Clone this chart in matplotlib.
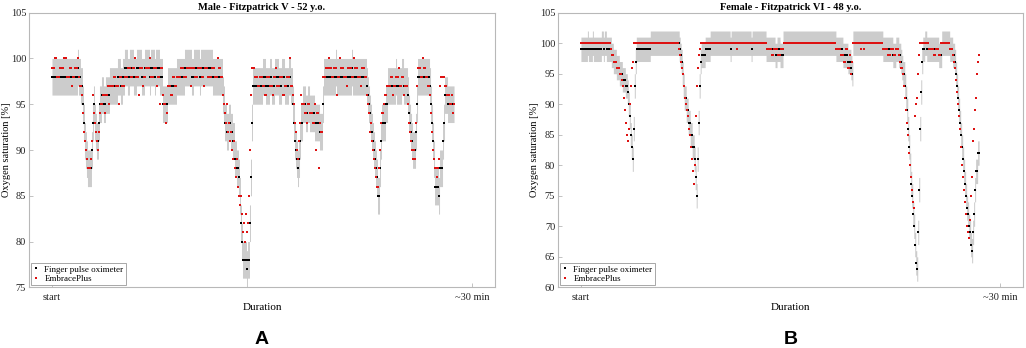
import numpy as np
import matplotlib
matplotlib.use("Agg")
import matplotlib.pyplot as plt

plt.rcParams['font.family'] = ['Liberation Serif', 'DejaVu Serif']

# ---- data: run-length encoded SpO2 readings (value, number of samples); 14 samples per minute ----
SAMPLES_PER_MIN = 14

male_finger_runs = [
    (98, 26), (99, 1), (98, 2), (97, 2), (95, 1), (93, 1), (91, 1), (90, 1), (89, 1), (88, 4),
    (90, 1), (93, 1), (95, 1), (93, 1), (92, 1), (91, 2), (93, 1),
    (95, 2), (96, 2), (95, 2), (96, 4), (97, 8), (98, 3), (97, 2), (98, 2),
    (99, 3), (98, 2), (99, 4), (98, 3), (99, 5), (98, 3),
    (99, 5), (98, 1), (99, 4), (98, 1), (99, 4), (98, 3), (95, 5), (97, 9), (98, 8),
    (99, 7), (98, 2), (99, 6), (98, 1), (99, 6), (99, 6), (98, 10),
    (96, 1), (95, 1), (93, 2), (92, 2), (93, 2), (92, 2), (91, 2), (89, 2), (88, 2), (87, 1),
    (85, 1), (82, 1), (80, 1), (78, 4), (77, 1), (78, 2), (82, 1), (87, 1), (93, 1),
    (97, 10), (98, 3), (97, 4), (98, 2), (97, 3), (98, 4), (97, 3), (98, 3), (97, 4), (98, 2), (97, 2),
    (95, 1), (93, 1), (91, 1), (90, 1), (89, 1), (88, 1), (89, 1), (91, 1),
    (93, 2), (95, 3), (94, 2), (95, 2), (94, 3), (94, 2), (93, 3), (93, 2), (92, 3),
    (95, 1), (98, 12), (99, 1), (98, 15), (99, 1), (98, 14),
    (97, 1), (96, 1), (95, 1), (94, 1), (93, 1), (92, 1), (91, 1), (90, 1), (89, 1), (88, 1), (87, 1), (85, 2),
    (88, 1), (91, 1), (93, 4), (95, 2), (97, 8), (98, 1), (97, 5), (98, 2), (97, 4),
    (96, 1), (94, 1), (93, 1), (92, 1), (91, 1), (90, 3), (92, 1), (95, 1), (98, 12),
    (97, 1), (95, 1), (93, 1), (91, 1), (89, 1), (86, 4), (85, 1), (88, 3), (91, 1), (93, 1),
    (96, 3), (95, 7),
]

male_embrace_runs = [
    (99, 3), (100, 2), (98, 3), (99, 4), (100, 3), (98, 3), (99, 2), (97, 1), (98, 2), (99, 3), (100, 1), (98, 1),
    (97, 2), (96, 1),
    (94, 1), (92, 1), (91, 1), (90, 1), (89, 1), (88, 3), (89, 1), (91, 1),
    (96, 1), (94, 1), (93, 1), (92, 1), (91, 1), (90, 1), (92, 1), (94, 1),
    (95, 2), (96, 2), (94, 1), (96, 2), (97, 1), (95, 1),
    (97, 4), (98, 2), (97, 3), (95, 1), (98, 2), (97, 3),
    (98, 3), (99, 3), (98, 2), (99, 2), (100, 1), (98, 3), (96, 1), (99, 3), (97, 1), (98, 2), (99, 4), (100, 1),
    (98, 3), (99, 3), (97, 1), (98, 2), (95, 1), (99, 2),
    (96, 1), (95, 2), (93, 1), (94, 1), (97, 3), (96, 2), (98, 2), (97, 2),
    (98, 4), (99, 3), (98, 3), (99, 4), (97, 1), (99, 3), (98, 3), (99, 4), (98, 2), (97, 1), (99, 3), (98, 4),
    (99, 3), (98, 3), (100, 1), (99, 2), (98, 2),
    (96, 1), (95, 1), (94, 1), (93, 1), (95, 1), (92, 1), (93, 1), (91, 1), (92, 1), (90, 1), (89, 1), (91, 1),
    (88, 1), (87, 1), (89, 1), (86, 1), (85, 1), (84, 1), (85, 1), (83, 1), (81, 1), (82, 1), (80, 1), (83, 1),
    (81, 1), (82, 1), (85, 1), (90, 1), (96, 1),
    (99, 3), (98, 3), (97, 2), (98, 3),
    (97, 2), (96, 2), (98, 3), (97, 3), (96, 1), (98, 2), (99, 1), (97, 3), (98, 3), (96, 2), (97, 2), (98, 3), (100, 1), (97, 2),
    (96, 1), (95, 1), (93, 1), (92, 1), (90, 1), (89, 1), (91, 1), (93, 1),
    (96, 1), (95, 3), (94, 2), (93, 1), (95, 2), (94, 3), (93, 2), (95, 1), (90, 1), (94, 2), (88, 1), (93, 1), (92, 2),
    (98, 3), (99, 3), (100, 1), (99, 2), (98, 2), (99, 3), (96, 1), (98, 2), (100, 1), (99, 3), (98, 3), (97, 1),
    (99, 4), (98, 2), (100, 1), (99, 3), (98, 3), (97, 1), (99, 3), (98, 2),
    (96, 1), (95, 1), (94, 1), (92, 1), (93, 1), (91, 1), (90, 1), (89, 1), (88, 1), (87, 1), (86, 2), (88, 1), (90, 1), (93, 1),
    (94, 2), (95, 1), (96, 2), (97, 1),
    (97, 3), (98, 2), (96, 1), (97, 2), (98, 3), (99, 1), (97, 2), (98, 2), (96, 1), (97, 3),
    (95, 1), (93, 1), (92, 1), (91, 1), (90, 1), (89, 1), (90, 1), (89, 1), (93, 1), (97, 1),
    (99, 3), (98, 2), (100, 1), (99, 2), (98, 2), (97, 2),
    (96, 1), (94, 1), (92, 1), (90, 1), (89, 1), (88, 2), (87, 1), (88, 1), (89, 1), (97, 1), (98, 2),
    (98, 2), (97, 2), (96, 3), (95, 2), (96, 1), (94, 1), (95, 1),
]

female_finger_runs = [
    (99, 7), (100, 1), (99, 4), (100, 1), (99, 8), (100, 2), (99, 1), (100, 2), (99, 5),
    (98, 2), (97, 3), (96, 3), (95, 3), (94, 3), (93, 2),
    (92, 1), (90, 1), (88, 1), (85, 1), (83, 1), (81, 1), (86, 1), (93, 1), (97, 1),
    (99, 14), (100, 26),
    (100, 3), (99, 1), (98, 1), (97, 1), (95, 1), (93, 1), (91, 2), (89, 2), (87, 2), (85, 2), (83, 2),
    (81, 1), (78, 1), (75, 1), (81, 1), (87, 1), (93, 1), (97, 1),
    (98, 4), (99, 5), (100, 20), (99, 1), (100, 20), (99, 1), (100, 14),
    (99, 9), (98, 2), (99, 3), (98, 3), (100, 53),
    (99, 7), (98, 5), (97, 3), (96, 1), (95, 1), (100, 30),
    (99, 10), (98, 3), (99, 3),
    (98, 2), (97, 1), (96, 1), (95, 2), (93, 1), (91, 1), (89, 1), (86, 1), (83, 1), (80, 1), (77, 1), (75, 1),
    (72, 1), (70, 1), (67, 1), (64, 1), (63, 1), (69, 1), (76, 1), (86, 1), (92, 1), (97, 1),
    (99, 2), (100, 2), (99, 3), (99, 9), (98, 3), (100, 8), (99, 3),
    (98, 2), (97, 1), (95, 1), (93, 1), (91, 1), (89, 1), (87, 1), (85, 1), (83, 1), (81, 1), (79, 1), (77, 1),
    (75, 1), (73, 1), (72, 1), (70, 1), (69, 1), (67, 1), (66, 1), (69, 1), (72, 1), (76, 1), (79, 2), (82, 2),
]

female_embrace_runs = [
    (100, 30), (99, 1), (98, 2), (97, 3), (96, 3), (95, 2),
    (94, 1), (93, 1), (91, 1), (89, 1), (87, 1), (85, 1), (84, 1), (86, 1), (90, 1), (93, 1), (96, 1), (97, 1),
    (100, 43),
    (100, 2), (99, 1), (98, 1), (97, 1), (96, 1), (95, 1), (93, 1), (91, 1), (90, 1), (89, 1), (88, 1), (86, 1),
    (85, 1), (83, 1), (81, 1), (79, 1), (77, 1), (80, 1), (88, 1), (93, 1), (96, 1), (98, 1), (99, 1),
    (100, 36), (99, 1), (100, 29),
    (99, 5), (98, 2), (99, 4), (98, 3), (99, 3), (100, 53),
    (99, 5), (98, 3), (97, 2), (99, 2), (96, 2), (98, 1), (95, 1), (97, 1),
    (100, 8), (99, 1), (100, 2), (99, 1), (100, 18),
    (99, 5), (98, 3), (99, 3), (98, 2), (99, 1),
    (99, 2), (98, 1), (97, 1), (96, 2), (95, 1), (93, 1), (91, 1), (89, 1), (87, 1), (85, 1), (82, 1), (80, 1),
    (78, 1), (76, 1), (74, 1), (73, 1), (88, 1), (90, 1), (91, 1), (95, 1), (98, 1),
    (100, 9), (99, 5), (98, 2), (99, 3), (98, 2), (100, 9), (99, 3),
    (98, 1), (97, 1), (96, 1), (94, 1), (92, 1), (90, 1), (88, 1), (86, 1), (83, 1), (80, 1), (78, 1), (76, 1),
    (74, 1), (72, 1), (70, 1), (69, 1), (68, 1), (71, 1), (75, 1), (78, 1), (84, 1), (86, 1), (89, 1), (91, 1),
    (95, 1), (97, 1), (98, 1),
]

panel_titles = ["Male - Fitzpatrick V - 52 y.o.", "Female - Fitzpatrick VI - 48 y.o."]
panel_letters = ["A", "B"]
y_limits = [(75, 105), (60, 105)]
x_tick_labels = ["start", "~30 min"]
x_tick_positions = [0, 30]
legend_labels = ["Finger pulse oximeter", "EmbracePlus"]
accuracy_band = 2  # +/- % around finger oximeter reading


def expand(runs):
    vals = np.concatenate([np.full(n, v, dtype=float) for v, n in runs])
    t = np.arange(len(vals)) / SAMPLES_PER_MIN
    return t, vals


fig = plt.figure(figsize=(10.26, 3.48), dpi=100)
axes_rects = [[29 / 1026, 1 - 287.3 / 348, 466 / 1026, 274.6 / 348],
              [558 / 1026, 1 - 287.3 / 348, 465 / 1026, 274.6 / 348]]
ylabel_x = [-0.038, -0.041]
datasets = [(male_finger_runs, male_embrace_runs), (female_finger_runs, female_embrace_runs)]
spine_col = '#b8b8b8'

for i, rect in enumerate(axes_rects):
    ax = fig.add_axes(rect)
    fr, er = datasets[i]
    tf, vf = expand(fr)
    te, ve = expand(er)
    ax.fill_between(tf, vf - accuracy_band, vf + accuracy_band, step='mid',
                    color='#cccccc', linewidth=0, zorder=1)
    ax.plot(tf, vf, linestyle='none', marker='s', markersize=1.9, markeredgewidth=0,
            color='black', label=legend_labels[0], zorder=2)
    ax.plot(te, ve, linestyle='none', marker='s', markersize=1.9, markeredgewidth=0,
            color='#dd1111', label=legend_labels[1], zorder=3)
    ax.set_xlim(-1.64, 31.64)
    ax.set_ylim(*y_limits[i])
    ax.set_yticks(np.arange(y_limits[i][0], y_limits[i][1] + 1, 5))
    ax.set_xticks(x_tick_positions)
    ax.set_xticklabels(x_tick_labels)
    ax.tick_params(direction='in', length=3, width=0.6, colors=spine_col,
                   labelcolor='#222222', labelsize=7.5, pad=2)
    ax.tick_params(axis='x', pad=4)
    for s in ax.spines.values():
        s.set_color(spine_col)
        s.set_linewidth(0.8)
    ax.set_title(panel_titles[i], fontsize=7.5, fontweight='bold', pad=2)
    ax.set_ylabel("Oxygen saturation [%]", fontsize=7.5)
    ax.yaxis.set_label_coords(ylabel_x[i], 0.5)
    ax.set_xlabel("Duration", fontsize=8, labelpad=1)
    leg = ax.legend(loc='lower left', fontsize=6.5, markerscale=1.1, handlelength=0.6,
                    handletextpad=0.6, borderpad=0.3, labelspacing=0.1, fancybox=False,
                    borderaxespad=0.2, framealpha=1)
    leg.get_frame().set_edgecolor('#999999')
    leg.get_frame().set_linewidth(0.6)
    cx = rect[0] + rect[2] / 2
    fig.text(cx, 1 - 339 / 348, panel_letters[i], fontsize=14, fontweight='bold',
             family=['Liberation Sans', 'DejaVu Sans'], ha='center', va='center')

fig.savefig("out.png", dpi=100, facecolor='white')
